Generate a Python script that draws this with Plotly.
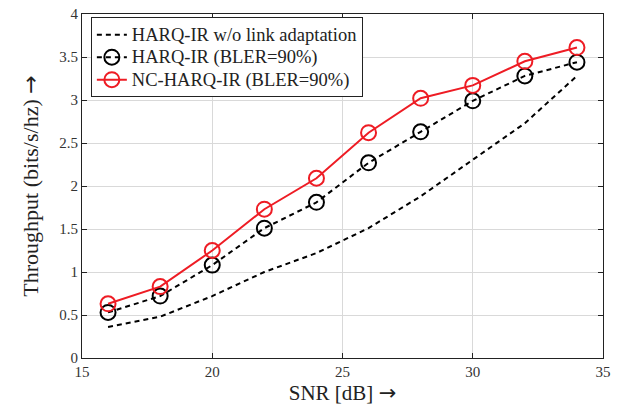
import plotly.graph_objects as go

snr = [16, 18, 20, 22, 24, 26, 28, 30, 32, 34]
no_la = [0.36, 0.48, 0.72, 1.00, 1.22, 1.51, 1.88, 2.30, 2.73, 3.28]
harq = [0.53, 0.72, 1.08, 1.51, 1.81, 2.27, 2.63, 2.99, 3.28, 3.44]
nc_harq = [0.63, 0.83, 1.25, 1.73, 2.09, 2.62, 3.02, 3.17, 3.45, 3.61]

names = ["HARQ-IR w/o link adaptation", "HARQ-IR (BLER=90%)", "NC-HARQ-IR (BLER=90%)"]
x_ticks = [15, 20, 25, 30, 35]
y_ticks = [0, 0.5, 1, 1.5, 2, 2.5, 3, 3.5, 4]
y_ticktext = ["0", "0.5", "1", "1.5", "2", "2.5", "3", "3.5", "4"]

font_fam = "Liberation Serif, DejaVu Serif, serif"
arrow = '<span style="font-family:DejaVu Sans">→</span>'


def big(s):
    return '<span style="font-size:18.5px">' + s + '</span>'


fig = go.Figure()
fig.add_trace(go.Scatter(x=snr, y=no_la, mode="lines", name=big(names[0]),
                         line=dict(color="black", width=2, dash="5px,4px")))
fig.add_trace(go.Scatter(x=snr, y=harq, mode="lines+markers", name=big(names[1]),
                         line=dict(color="black", width=2, dash="5px,4px"),
                         marker=dict(symbol="circle-open", size=15, color="black",
                                     line=dict(width=2, color="black"))))
fig.add_trace(go.Scatter(x=snr, y=nc_harq, mode="lines+markers", name=big(names[2]),
                         line=dict(color="#ee1c24", width=2),
                         marker=dict(symbol="circle-open", size=15, color="#ee1c24",
                                     line=dict(width=2, color="#ee1c24"))))

axis_common = dict(showgrid=True, gridcolor="#d9d9d9", gridwidth=1,
                   showline=True, linecolor="#222222", linewidth=1, mirror="ticks",
                   ticks="inside", ticklen=5, tickcolor="#222222", automargin=False,
                   zeroline=False, tickfont=dict(family=font_fam, size=15, color="#333333"))

fig.update_xaxes(range=[15, 35], tickvals=x_ticks, ticktext=[str(v) for v in x_ticks],
                 title=dict(text="SNR [dB] " + arrow, font=dict(family=font_fam, size=21, color="#222222"),
                            standoff=6),
                 **axis_common)
fig.update_yaxes(range=[0, 4], tickvals=y_ticks, ticktext=y_ticktext,
                 title=dict(text="Throughput (bits/s/hz) " + arrow, font=dict(family=font_fam, size=22, color="#222222"),
                            standoff=14),
                 **axis_common)

fig.update_layout(
    width=622, height=412,
    margin=dict(l=82, r=19, t=14, b=54, autoexpand=False),
    plot_bgcolor="white", paper_bgcolor="white",
    font=dict(family=font_fam, color="#222222"),
    legend=dict(x=0.017, y=0.99, xanchor="left", yanchor="top",
                bgcolor="white", bordercolor="#222222", borderwidth=1,
                font=dict(family=font_fam, size=15, color="#222222"),
                tracegroupgap=0, itemwidth=30),
    showlegend=True,
)

fig.write_html("out.html")
